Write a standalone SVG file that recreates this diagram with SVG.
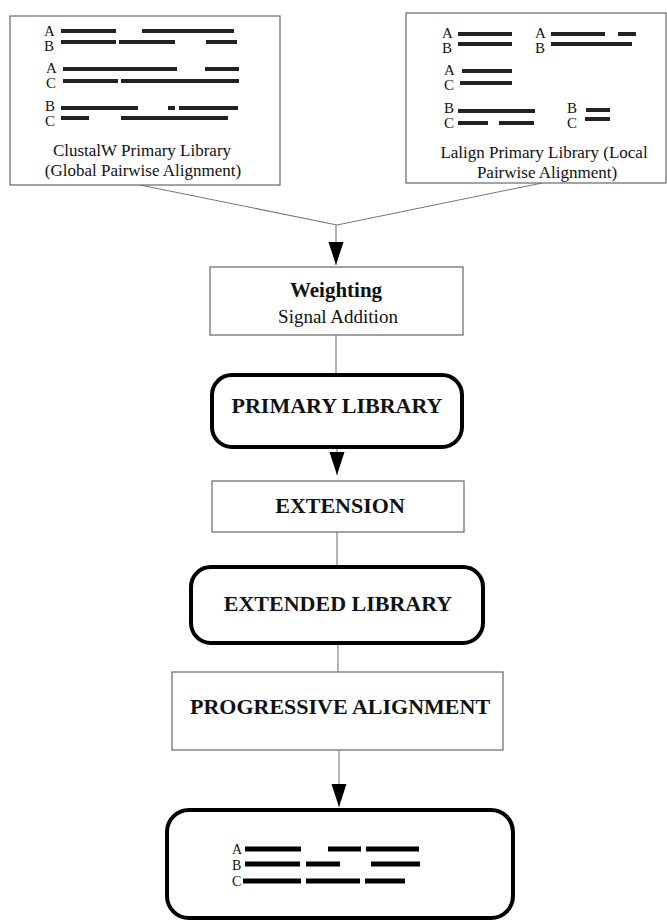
<svg xmlns="http://www.w3.org/2000/svg" width="667" height="921" viewBox="0 0 667 921">
  <style>
    .thin { fill: #fff; stroke: #666; stroke-width: 1.2; }
    .thick { fill: #fff; stroke: #000; stroke-width: 4; }
    .conn { fill: none; stroke: #777; stroke-width: 1.1; }
    .bar { stroke: #222; stroke-width: 4; }
    .barB { stroke: #000; stroke-width: 5; }
    text { font-family: "Liberation Serif", "Times New Roman", serif; fill: #111; }
    .seq { font-size: 15px; }
    .seqF { font-size: 14px; }
    .cap { font-size: 17px; text-anchor: middle; }
    .head { font-size: 22px; font-weight: bold; text-anchor: middle; }
    .sub { font-size: 19px; text-anchor: middle; }
  </style>
  <defs>
    <marker id="tri" viewBox="0 -8 24 16" refX="23" refY="0" markerWidth="24" markerHeight="16" markerUnits="userSpaceOnUse" orient="auto">
      <path d="M0,-7.5 L23,0 L0,7.5 Z" fill="#000"/>
    </marker>
  </defs>

  <rect width="667" height="921" fill="#fff"/>

  <!-- connectors -->
  <g id="connectors">
    <polyline class="conn" points="140,185 337,225 542,183"/>
    <line class="conn" x1="336" y1="225" x2="336" y2="265" marker-end="url(#tri)"/>
    <line class="conn" x1="336" y1="335" x2="336" y2="375"/>
    <line class="conn" x1="337" y1="447" x2="337" y2="475" marker-end="url(#tri)"/>
    <line class="conn" x1="337" y1="532" x2="337" y2="567"/>
    <line class="conn" x1="338" y1="643" x2="338" y2="672"/>
    <line class="conn" x1="339" y1="750" x2="339" y2="807" marker-end="url(#tri)"/>
  </g>

  <!-- global pairwise library -->
  <g id="clustalw">
    <rect class="thin" x="10" y="16" width="270" height="169"/>
    <text class="seq" x="44" y="36">A</text>
    <text class="seq" x="44" y="51">B</text>
    <line class="bar" x1="61" y1="31" x2="116" y2="31"/>
    <line class="bar" x1="142" y1="31" x2="234" y2="31"/>
    <line class="bar" x1="61" y1="42" x2="116" y2="42"/>
    <line class="bar" x1="119" y1="42" x2="175" y2="42"/>
    <line class="bar" x1="206" y1="42" x2="237" y2="42"/>
    <text class="seq" x="46" y="73">A</text>
    <text class="seq" x="46" y="88">C</text>
    <line class="bar" x1="63" y1="69" x2="177" y2="69"/>
    <line class="bar" x1="205" y1="69" x2="239" y2="69"/>
    <line class="bar" x1="63" y1="81" x2="118" y2="81"/>
    <line class="bar" x1="121" y1="81" x2="239" y2="81"/>
    <text class="seq" x="45" y="111">B</text>
    <text class="seq" x="45" y="126">C</text>
    <line class="bar" x1="61" y1="108" x2="138" y2="108"/>
    <line class="bar" x1="168" y1="108" x2="175" y2="108"/>
    <line class="bar" x1="179" y1="108" x2="238" y2="108"/>
    <line class="bar" x1="61" y1="118" x2="89" y2="118"/>
    <line class="bar" x1="121" y1="118" x2="228" y2="118"/>
    <text class="cap" x="142" y="156">ClustalW Primary Library</text>
    <text class="cap" x="143" y="176">(Global Pairwise Alignment)</text>
  </g>

  <!-- local pairwise library -->
  <g id="lalign">
    <rect class="thin" x="406" y="13" width="260" height="170"/>
    <text class="seq" x="442" y="38">A</text>
    <text class="seq" x="442" y="53">B</text>
    <line class="bar" x1="458" y1="34" x2="512" y2="34"/>
    <line class="bar" x1="458" y1="44" x2="512" y2="44"/>
    <text class="seq" x="535" y="38">A</text>
    <text class="seq" x="535" y="53">B</text>
    <line class="bar" x1="551" y1="34" x2="605" y2="34"/>
    <line class="bar" x1="618" y1="34" x2="636" y2="34"/>
    <line class="bar" x1="551" y1="44" x2="632" y2="44"/>
    <text class="seq" x="444" y="75">A</text>
    <text class="seq" x="444" y="90">C</text>
    <line class="bar" x1="462" y1="71" x2="512" y2="71"/>
    <line class="bar" x1="460" y1="83" x2="512" y2="83"/>
    <text class="seq" x="444" y="113">B</text>
    <text class="seq" x="444" y="128">C</text>
    <line class="bar" x1="458" y1="111" x2="535" y2="111"/>
    <line class="bar" x1="458" y1="123" x2="488" y2="123"/>
    <line class="bar" x1="499" y1="123" x2="534" y2="123"/>
    <text class="seq" x="567" y="113">B</text>
    <text class="seq" x="567" y="128">C</text>
    <line class="bar" x1="586" y1="110" x2="610" y2="110"/>
    <line class="bar" x1="585" y1="119" x2="610" y2="119"/>
    <text class="cap" x="544" y="158">Lalign Primary Library (Local</text>
    <text class="cap" x="547" y="178">Pairwise Alignment)</text>
  </g>

  <g id="weighting">
    <rect class="thin" x="210" y="267" width="253" height="68"/>
    <text class="head" x="336" y="297" style="font-size:21px">Weighting</text>
    <text class="sub" x="338" y="323">Signal Addition</text>
  </g>

  <g id="primary-library">
    <rect class="thick" x="212" y="375" width="250" height="72" rx="20"/>
    <text class="head" x="337" y="413">PRIMARY LIBRARY</text>
  </g>

  <g id="extension">
    <rect class="thin" x="212" y="481" width="252" height="51"/>
    <text class="head" x="340" y="513">EXTENSION</text>
  </g>

  <g id="extended-library">
    <rect class="thick" x="191" y="567" width="292" height="76" rx="20"/>
    <text class="head" x="338" y="611">EXTENDED LIBRARY</text>
  </g>

  <g id="progressive-alignment">
    <rect class="thin" x="172" y="672" width="331" height="78"/>
    <text class="head" x="340" y="714">PROGRESSIVE ALIGNMENT</text>
  </g>

  <!-- final multiple alignment -->
  <g id="msa">
    <rect class="thick" x="167" y="810" width="346" height="108" rx="22"/>
    <text class="seqF" x="232" y="854">A</text>
    <text class="seqF" x="232" y="870">B</text>
    <text class="seqF" x="232" y="886">C</text>
    <line class="barB" x1="245" y1="849" x2="301" y2="849"/>
    <line class="barB" x1="328" y1="849" x2="361" y2="849"/>
    <line class="barB" x1="366" y1="849" x2="419" y2="849"/>
    <line class="barB" x1="245" y1="864" x2="300" y2="864"/>
    <line class="barB" x1="306" y1="864" x2="340" y2="864"/>
    <line class="barB" x1="371" y1="864" x2="420" y2="864"/>
    <line class="barB" x1="243" y1="881" x2="301" y2="881"/>
    <line class="barB" x1="306" y1="881" x2="360" y2="881"/>
    <line class="barB" x1="365" y1="881" x2="405" y2="881"/>
  </g>
</svg>
